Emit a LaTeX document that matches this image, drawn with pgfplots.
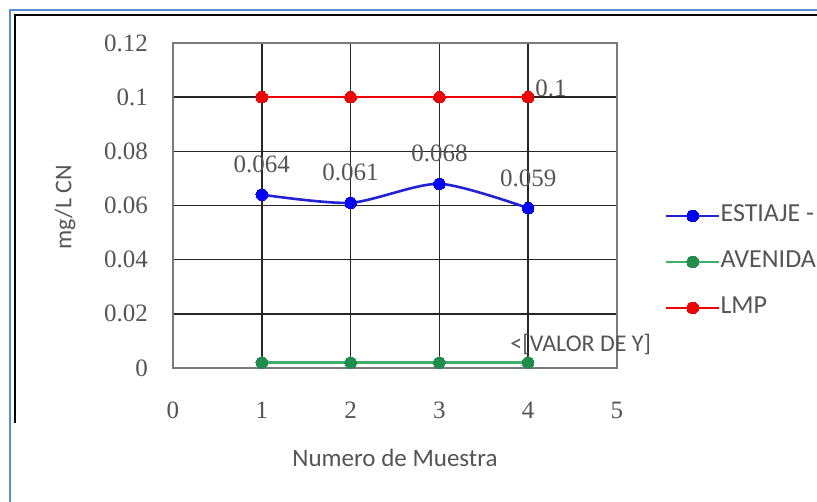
\documentclass[border=0pt]{standalone}
\usepackage{pgfplots}
\pgfplotsset{compat=1.18}
\usepackage{fontspec}
\setmainfont{Liberation Serif}
\newfontfamily\calibri{Carlito}

\definecolor{txtgray}{HTML}{555555}
\definecolor{estblue}{HTML}{2222D6}
\definecolor{avgreen}{HTML}{3FAE66}
\definecolor{avmark}{HTML}{1F8E4C}
\definecolor{lmpred}{HTML}{F00000}
\definecolor{frameblue}{HTML}{5A8ED2}
\definecolor{boxgray}{HTML}{7A7A7A}

\begin{document}
\begin{tikzpicture}[x=1pt,y=1pt]
\useasboundingbox (0,0) rectangle (817,501);
\clip (0,0) rectangle (817,501);
\fill[white] (0,0) rectangle (817,501);
% page frame
\draw[frameblue, line width=2pt] (10,-20) -- (10,491) -- (860,491);
\draw[black, line width=2.5pt] (15,78) -- (15,486) -- (860,486);

\begin{axis}[
  at={(173pt,133pt)}, anchor=south west,
  scale only axis, width=444pt, height=325pt,
  xmin=0, xmax=5, ymin=0, ymax=0.12,
  xtick={0,1,2,3,4,5},
  ytick={0,0.02,0.04,0.06,0.08,0.1,0.12},
  major tick length=0pt,
  grid=major,
  major grid style={black!85, line width=1.5pt},
  axis line style={boxgray, line width=1.8pt},
  /pgf/number format/assume math mode=true,
  /pgf/number format/fixed,
  /pgf/number format/precision=2,
  tick label style={font=\fontsize{25}{28}\selectfont, text=txtgray},
  yticklabel style={anchor=east, inner sep=0pt, xshift=-25pt},
  xticklabel style={anchor=center, inner sep=0pt, yshift=-42pt},
  xlabel={Numero de Muestra},
  xlabel style={at={(axis description cs:0.5,-0.277)}, anchor=center,
    inner sep=0pt, font=\calibri\fontsize{25}{28}\selectfont, text=txtgray},
  ylabel={mg/L CN},
  ylabel style={at={(axis description cs:-0.243,0.495)}, anchor=center,
    rotate=0, inner sep=0pt, font=\calibri\fontsize{24}{28}\selectfont, text=txtgray},
  legend style={at={(1.108,0.505)}, anchor=north west, draw=none, fill=none,
    inner sep=0pt, outer sep=0pt, row sep=22pt,
    font=\calibri\fontsize{26}{30}\selectfont, text=txtgray,
    nodes={inner sep=0pt, anchor=west, text height=18pt, text depth=6pt},
    /tikz/every even column/.append style={column sep=5pt}},
  legend cell align=left,
  legend image code/.code={%
    \draw[mark repeat=2, mark phase=2, #1]
      plot coordinates {(0pt,0pt) (26.5pt,0pt) (53pt,0pt)};},
  clip=false,
]
% dry season samples
\addplot[estblue, line width=2.6pt, smooth, tension=0.45,
  mark=*, mark size=5.8pt, mark options={fill=blue, draw=blue, line width=0pt},
  nodes near coords={\pgfmathprintnumber[fixed,precision=3]{\pgfplotspointmeta}},
  every node near coord/.style={anchor=center, yshift=30pt, text=txtgray,
    font=\fontsize{25}{28}\selectfont, inner sep=0pt}]
  coordinates {(1,0.064) (2,0.061) (3,0.068) (4,0.059)};
\addlegendentry{ESTIAJE - 2012}
% wet season samples
\addplot[avgreen, line width=2.6pt,
  mark=*, mark size=5.8pt, mark options={fill=avmark, draw=avmark, line width=0pt}]
  coordinates {(1,0.002) (2,0.002) (3,0.002) (4,0.002)}
  node[pos=1, anchor=west, xshift=-19pt, yshift=18pt, inner sep=0pt,
    font=\calibri\fontsize{24}{28}\selectfont, text=txtgray] {<[VALOR DE Y]};
\addlegendentry{AVENIDA - 2012}
% maximum permissible limit
\addplot[lmpred, line width=2.6pt,
  mark=*, mark size=5.8pt, mark options={fill=lmpred, draw=lmpred, line width=0pt}]
  coordinates {(1,0.1) (2,0.1) (3,0.1) (4,0.1)}
  node[pos=1, anchor=west, xshift=6pt, yshift=9pt, inner sep=0pt,
    font=\fontsize{25}{28}\selectfont, text=txtgray] {0.1};
\addlegendentry{LMP}
\end{axis}
\end{tikzpicture}
\end{document}
